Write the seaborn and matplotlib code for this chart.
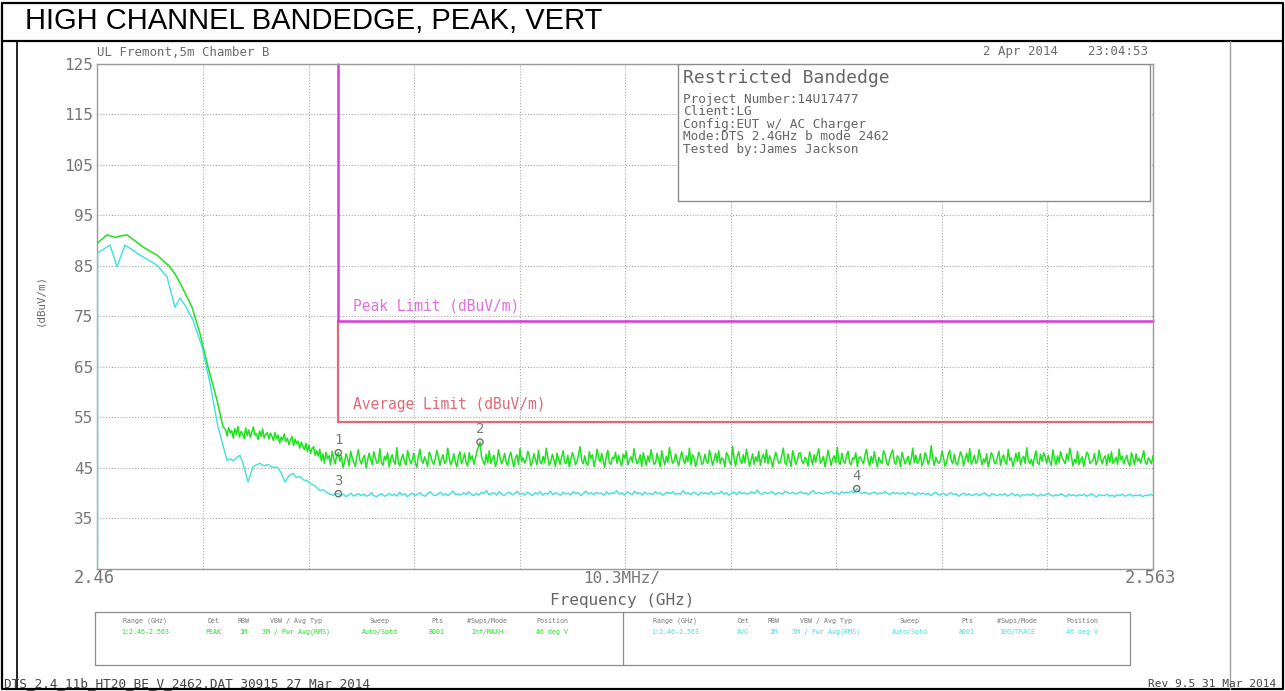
import numpy as np
import pandas as pd
import matplotlib
matplotlib.use("Agg")
import matplotlib.pyplot as plt
import seaborn as sns
from matplotlib.patches import Rectangle
from matplotlib.lines import Line2D

# ---------------- sweep data ----------------
F_START, F_STOP = 2.46, 2.563          # GHz
Y_MIN, Y_MAX = 25, 125                 # dBuV/m
y_ticks = [25, 35, 45, 55, 65, 75, 85, 95, 105, 115, 125]
y_tick_labels = ["", "35", "45", "55", "65", "75", "85", "95", "105", "115", "125"]

BAND_EDGE = 2.4835     # GHz, start of restricted band
PEAK_LIMIT = 74.0      # dBuV/m
AVG_LIMIT = 54.0       # dBuV/m
SKIRT_END = 2.4725     # GHz, where the carrier skirt reaches the noise floor

# peak detector trace: roll-off of the carrier skirt
peak_rolloff_freq = [2.46000, 2.46093, 2.46171, 2.46230, 2.46288, 2.46366, 2.46444,
                     2.46510, 2.46581, 2.46640, 2.46707, 2.46770, 2.46825, 2.46922,
                     2.47000, 2.47078, 2.47166, 2.47225]
peak_rolloff_level = [89.5, 91.1, 90.6, 90.9, 91.1, 89.9, 88.7,
                      87.9, 87.1, 86.0, 84.8, 82.9, 80.8, 76.8,
                      71.6, 65.0, 58.4, 53.1]

# peak detector trace: evenly spaced points, skirt end -> band edge
peak_skirt_level = [
    52.6, 51.3, 53.0, 51.9, 52.4, 50.9, 52.8, 51.6, 53.2, 51.1,
    52.2, 51.7, 50.8, 52.9, 51.4, 52.5, 51.0, 52.1, 53.1, 51.5,
    51.8, 50.6, 52.3, 51.2, 52.7, 50.9, 51.6, 52.0, 50.7, 51.9,
    51.3, 50.4, 52.0, 50.8, 51.5, 49.9, 51.1, 50.5, 51.7, 50.2,
    50.9, 49.6, 50.5, 51.2, 49.4, 50.7, 49.8, 50.3, 48.9, 50.1,
    49.3, 48.6, 49.9, 48.2, 49.5, 47.9, 48.8, 49.2, 47.5, 48.4,
    47.3, 48.7, 46.4, 47.8, 45.9, 48.1, 46.8, 47.4, 45.6, 48.3,
    46.9, 45.8, 47.6,
]

# peak detector trace: evenly spaced points, band edge -> stop frequency
peak_band_level = [
    48.0, 46.3, 47.4, 45.1, 46.0, 47.8, 46.9, 45.4, 48.3, 47.0,
    46.1, 45.3, 47.2, 48.6, 46.5, 45.8, 46.9, 47.5, 45.0, 46.4,
    47.9, 46.7, 45.6, 48.2, 47.1, 45.9, 46.2, 48.8, 46.0, 45.5,
    47.3, 46.6, 48.0, 45.2, 46.8, 47.6, 46.3, 45.7, 49.0, 46.1,
    45.4, 46.9, 47.7, 46.2, 45.6, 48.4, 47.0, 45.8, 46.5, 47.9,
    46.0, 45.1, 47.4, 48.7, 46.6, 45.9, 47.2, 46.4, 45.3, 48.1,
    47.5, 46.2, 45.7, 46.9, 48.5, 47.1, 45.5, 46.8, 47.6, 45.9,
    46.3, 48.9, 47.0, 45.6, 46.4, 47.8, 46.1, 45.2, 47.3, 48.2,
    45.8, 46.7, 47.9, 46.0, 45.4, 48.0, 46.6, 47.4, 45.7, 46.9,
    48.3, 49.1, 50.1, 47.2, 46.3, 45.6, 47.7, 46.0, 48.4, 45.9,
    46.8, 47.5, 45.3, 46.2, 48.6, 47.0, 45.8, 46.5, 47.9, 46.1,
    45.5, 47.2, 48.1, 46.4, 45.2, 46.9, 47.6, 45.7, 48.8, 46.3,
    47.0, 45.9, 46.6, 48.3, 47.4, 45.4, 46.1, 47.8, 46.7, 45.6,
    48.5, 46.2, 45.8, 47.3, 46.0, 48.9, 47.1, 45.5, 46.4, 47.7,
    46.6, 45.3, 47.9, 46.8, 45.7, 47.2, 48.4, 46.1, 45.9, 47.5,
    45.2, 46.7, 48.0, 47.1, 45.6, 46.3, 47.8, 49.2, 46.5, 45.8,
    47.4, 46.0, 45.5, 48.2, 46.9, 47.6, 45.3, 46.6, 48.7, 47.0,
    46.2, 47.9, 46.4, 45.1, 47.3, 48.5, 46.0, 45.7, 47.1, 46.8,
    48.1, 45.9, 47.5, 46.3, 45.4, 47.7, 46.9, 48.3, 45.6, 46.5,
    47.2, 46.1, 48.8, 47.0, 45.8, 46.4, 47.6, 45.3, 48.0, 46.7,
    45.5, 47.4, 46.2, 48.6, 47.1, 45.7, 46.0, 47.9, 46.6, 45.2,
    48.4, 46.8, 45.6, 47.3, 46.1, 49.0, 47.5, 45.9, 46.3, 47.8,
    46.5, 45.4, 47.0, 48.2, 46.7, 45.8, 47.4, 46.2, 48.9, 45.6,
    47.6, 46.9, 45.3, 46.4, 48.1, 47.2, 45.7, 46.0, 47.7, 46.3,
    45.9, 48.5, 47.1, 45.5, 46.6, 47.9, 46.1, 48.4, 45.8, 47.0,
    46.7, 45.2, 48.0, 47.5, 46.2, 45.6, 49.3, 46.8, 45.4, 47.3,
    48.2, 46.4, 45.9, 47.6, 46.0, 48.7, 47.1, 45.3, 46.5, 47.8,
    45.7, 47.2, 46.3, 48.3, 45.5, 46.9, 47.7, 46.1, 48.6, 45.8,
    47.4, 46.6, 45.1, 46.8, 48.1, 47.0, 45.9, 46.2, 47.5, 48.9,
    46.0, 45.6, 47.8, 46.5, 45.3, 48.4, 47.2, 45.7, 46.4, 47.9,
    48.0, 46.3, 45.8, 47.1, 46.7, 45.4, 48.2, 46.9, 45.6, 47.6,
    46.1, 47.7, 48.8, 45.9, 46.4, 47.3, 45.2, 46.6, 48.5, 47.0,
    45.5, 46.8, 47.4, 46.0, 49.1, 46.2, 45.7, 47.9, 46.3, 45.9,
    47.5, 48.3, 46.1, 45.6, 47.0, 46.7, 48.0, 45.3, 46.9, 47.2,
    46.4, 45.8, 47.6, 48.7, 46.5, 45.4, 47.3, 46.0, 48.2, 46.6,
    45.2, 47.1, 46.3, 45.9, 48.4, 47.7, 46.1, 45.5, 46.8, 47.9,
    48.6, 46.2, 45.7, 47.4, 46.9, 45.3, 48.1, 47.0, 45.8, 46.5,
    47.3, 45.6, 46.7, 48.9, 46.0, 47.5, 45.9, 46.4, 47.8, 45.4,
    46.2, 48.0, 47.2, 45.7, 46.6, 49.4, 46.8, 45.5, 47.1, 46.3,
    45.9, 46.5, 48.3, 47.0, 45.3, 46.1, 47.6, 48.5, 46.4, 45.8,
    47.7, 46.0, 45.6, 46.9, 48.2, 47.3, 45.4, 46.7, 47.9, 46.2,
    48.8, 45.7, 46.4, 47.5, 45.9, 46.3, 48.6, 47.1, 45.6, 46.8,
    46.1, 47.8, 45.2, 46.6, 48.0, 47.4, 46.0, 45.8, 47.2, 48.3,
    45.5, 46.9, 47.6, 46.2, 45.7, 48.7, 46.5, 47.0, 45.3, 46.4,
    47.9, 46.3, 48.1, 45.6, 46.8, 47.3, 45.9, 49.0, 46.6, 45.8,
    46.7, 45.4, 47.1, 48.4, 46.0, 45.7, 47.7, 46.3, 48.0, 47.2,
    45.9, 47.5, 46.2, 45.5, 48.6, 46.9, 45.6, 47.4, 46.1, 48.2,
    47.0, 46.4, 45.8, 47.8, 46.5, 48.9, 47.3, 45.4, 46.7, 46.0,
    48.3, 45.7, 46.6, 47.2, 45.3, 46.8, 48.1, 47.6, 45.9, 46.2,
    46.5, 47.9, 45.6, 46.3, 48.5, 47.0, 45.8, 46.9, 47.4, 45.5,
    47.7, 46.1, 48.2, 45.9, 46.4, 47.1, 45.7, 48.7, 46.6, 47.3,
    45.8, 46.7, 47.5, 46.0, 45.4, 48.0, 46.9, 45.6, 47.8, 46.3,
    46.9, 45.9, 47.2, 48.4, 46.1, 45.7, 47.0, 46.5, 45.8, 47.4,
]

# average detector trace: roll-off of the carrier skirt down to the band edge
avg_rolloff_freq = [2.46000, 2.46000, 2.46122, 2.46190, 2.46268, 2.46415, 2.46581,
                    2.46678, 2.46756, 2.46805, 2.46854, 2.46932, 2.47020, 2.47098,
                    2.47176, 2.47264, 2.47300, 2.47322, 2.47360, 2.47390, 2.47420,
                    2.47469, 2.47517, 2.47550, 2.47585, 2.47625, 2.47664, 2.47710,
                    2.47752, 2.47790, 2.47830, 2.47870, 2.47908, 2.47940, 2.47976,
                    2.48010, 2.48044, 2.48080, 2.48110, 2.48140, 2.48171, 2.48200,
                    2.48240, 2.48270, 2.48298, 2.48325]
avg_rolloff_level = [24.0, 87.5, 89.1, 84.8, 89.1, 87.1, 85.1,
                     82.8, 76.8, 78.6, 77.2, 74.2, 69.0, 61.7,
                     53.1, 46.5, 46.8, 46.4, 47.1, 47.5, 45.9,
                     42.2, 45.2, 45.6, 45.9, 45.4, 45.7, 45.1,
                     45.2, 44.1, 42.2, 43.5, 43.9, 43.1, 43.3,
                     42.6, 42.5, 41.9, 41.6, 41.1, 40.5, 40.7,
                     40.1, 39.8, 39.6, 39.9]

# average detector trace: evenly spaced points, band edge -> stop frequency
avg_band_level = [
    39.9, 39.5, 39.8, 39.3, 39.6, 40.0, 39.4, 39.7, 39.9, 39.5,
    39.8, 39.4, 39.6, 40.1, 39.5, 39.3, 39.7, 39.9, 39.4, 39.6,
    40.0, 39.5, 39.8, 39.4, 40.2, 39.6, 39.9, 39.3, 39.7, 40.0,
    39.5, 39.8, 40.1, 39.6, 39.4, 39.9, 40.3, 39.7, 39.5, 39.8,
    40.2, 39.6, 39.9, 39.5, 40.0, 40.4, 39.7, 39.9, 39.6, 40.1,
    39.7, 40.3, 39.8, 39.5, 40.0, 39.6, 40.2, 39.9, 40.5, 39.7,
    39.9, 40.1, 39.6, 40.3, 39.8, 39.5, 40.0, 40.2, 39.7, 39.9,
    40.4, 39.8, 40.0, 39.6, 40.2, 39.9, 39.5, 40.1, 39.8, 40.3,
    39.6, 40.0, 39.8, 40.4, 39.7, 40.1, 39.9, 39.6, 40.2, 39.8,
    40.0, 39.7, 40.3, 39.9, 40.1, 39.5, 40.0, 40.4, 39.8, 40.1,
    39.7, 40.2, 39.9, 40.0, 39.6, 40.3, 39.8, 40.1, 39.9, 40.5,
    39.8, 40.1, 39.6, 40.2, 40.0, 39.7, 40.4, 39.9, 40.1, 39.6,
    40.2, 39.8, 40.0, 39.7, 40.3, 39.9, 40.1, 39.6, 40.0, 40.2,
    39.9, 40.3, 39.7, 40.0, 39.8, 40.5, 39.9, 40.1, 39.7, 40.2,
    40.0, 39.6, 40.2, 39.9, 40.1, 39.8, 40.3, 39.7, 40.0, 39.9,
    40.4, 39.8, 40.1, 39.6, 40.0, 40.2, 39.7, 40.3, 39.9, 40.1,
    39.8, 40.0, 40.3, 39.9, 40.6, 40.0, 39.8, 40.2, 39.9, 40.1,
    40.3, 39.7, 40.1, 40.0, 39.8, 40.4, 40.1, 39.9, 40.2, 39.8,
    40.0, 40.3, 39.9, 40.1, 39.7, 40.2, 40.5, 39.9, 40.1, 40.0,
    39.8, 40.2, 40.0, 40.4, 39.9, 40.1, 39.7, 40.3, 40.0, 40.2,
    40.1, 40.4, 40.0, 40.9, 40.3, 39.9, 40.2, 40.0, 39.8, 40.1,
    40.2, 39.8, 40.1, 39.9, 40.3, 40.0, 39.7, 40.2, 39.9, 40.1,
    39.8, 40.1, 39.7, 40.2, 39.9, 40.0, 39.6, 40.1, 39.8, 40.0,
    39.7, 40.0, 39.5, 39.9, 40.2, 39.6, 39.8, 40.0, 39.5, 39.9,
    40.1, 39.7, 39.9, 39.4, 39.8, 40.0, 39.6, 39.9, 39.5, 39.7,
    39.9, 39.5, 39.8, 40.1, 39.6, 39.4, 39.9, 39.7, 39.5, 39.8,
    39.6, 39.9, 39.4, 39.7, 40.0, 39.5, 39.8, 39.3, 39.7, 39.6,
    39.8, 39.5, 39.9, 39.6, 39.4, 39.8, 39.5, 39.7, 40.0, 39.6,
    39.4, 39.7, 39.5, 39.9, 39.6, 39.3, 39.8, 39.5, 39.7, 39.4,
    39.7, 39.5, 39.8, 39.4, 39.6, 39.9, 39.5, 39.3, 39.7, 39.6,
    39.5, 39.8, 39.4, 39.6, 39.3, 39.7, 39.5, 39.8, 39.4, 39.6,
    39.8, 39.4, 39.6, 39.5, 39.7, 39.3, 39.6, 39.5, 39.8, 39.5,
]

marker_ids = ["1", "2", "3", "4"]

# ---------------- build traces ----------------
peak_band_freq = np.linspace(BAND_EDGE, F_STOP, len(peak_band_level))
avg_band_freq = np.linspace(BAND_EDGE, F_STOP, len(avg_band_level))

peak_df = pd.DataFrame({
    "freq": np.concatenate([peak_rolloff_freq,
                            np.linspace(SKIRT_END, BAND_EDGE, len(peak_skirt_level) + 1)[:-1],
                            peak_band_freq]),
    "level": peak_rolloff_level + peak_skirt_level + peak_band_level,
})
avg_df = pd.DataFrame({
    "freq": np.concatenate([avg_rolloff_freq, avg_band_freq]),
    "level": avg_rolloff_level + avg_band_level,
})

# markers: level at the band edge and the highest point inside the restricted band
i_pk = int(np.argmax(peak_band_level))
i_av = int(np.argmax(avg_band_level))
marker_freq = [BAND_EDGE, peak_band_freq[i_pk], BAND_EDGE, avg_band_freq[i_av]]
marker_level = [peak_band_level[0], peak_band_level[i_pk], avg_band_level[0], avg_band_level[i_av]]

# ---------------- styling ----------------
GREEN = "#1fe21f"
CYAN = "#3fe0e0"
MAGENTA = "#d93ad9"
MAGENTA_TXT = "#e070e0"
RED = "#e06a78"
INK = "#6a6a6a"
FRAME = "#9a9a9a"

sns.set_style("white")
plt.rcParams["font.family"] = ["DejaVu Sans Mono", "DejaVu Sans"]

W, H = 1285, 691
fig = plt.figure(figsize=(W / 100, H / 100), dpi=100)
fig.patch.set_facecolor("white")


def ftext(x, y, s, **kw):
    fig.text(x / W, 1 - y / H, s, **kw)


def fline(xs, ys, **kw):
    fig.add_artist(Line2D([x / W for x in xs], [1 - y / H for y in ys],
                          transform=fig.transFigure, **kw))


# plot area
ax_l, ax_r, ax_t, ax_b = 97.5, 1153, 63.5, 569
ax = fig.add_axes([ax_l / W, 1 - ax_b / H, (ax_r - ax_l) / W, (ax_b - ax_t) / H])

sns.lineplot(data=peak_df, x="freq", y="level", ax=ax, color=GREEN, lw=1.1,
             sort=False, estimator=None, zorder=3)
sns.lineplot(data=avg_df, x="freq", y="level", ax=ax, color=CYAN, lw=1.0,
             sort=False, estimator=None, zorder=3)

# limit lines
ax.plot([BAND_EDGE, BAND_EDGE, F_STOP], [PEAK_LIMIT, AVG_LIMIT, AVG_LIMIT],
        color=RED, lw=1.6, zorder=2)
ax.plot([BAND_EDGE, BAND_EDGE, F_STOP], [Y_MAX, PEAK_LIMIT, PEAK_LIMIT],
        color=MAGENTA, lw=1.8, zorder=2, clip_on=False)
ax.text(BAND_EDGE + 0.0014, PEAK_LIMIT + 3.0, "Peak Limit (dBuV/m)",
        color=MAGENTA_TXT, fontsize=10.5, va="center", ha="left", zorder=4)
ax.text(BAND_EDGE + 0.0014, AVG_LIMIT + 3.6, "Average Limit (dBuV/m)",
        color=RED, fontsize=10.5, va="center", ha="left", zorder=4)

# markers
ax.scatter(marker_freq, marker_level, s=20, facecolors="none",
           edgecolors="#707070", linewidths=1.0, zorder=5)
for mid, mf, ml in zip(marker_ids, marker_freq, marker_level):
    ax.text(mf, ml + 2.5, mid, ha="center", va="center", color="#7a7a7a",
            fontsize=10, zorder=5)

ax.set_xlim(F_START, F_STOP)
ax.set_ylim(Y_MIN, Y_MAX)
ax.set_xticks(np.linspace(F_START, F_STOP, 11))
ax.set_xticklabels([])
ax.set_yticks(y_ticks)
ax.set_yticklabels(y_tick_labels, color="#777777", fontsize=11.5)
ax.tick_params(axis="y", length=0, pad=3)
ax.tick_params(axis="x", length=0)
ax.set_xlabel("")
ax.set_ylabel("")
ax.grid(True, linestyle=(0, (1, 1.6)), color="#a8a8a8", lw=0.8, zorder=0)
for side in ["left", "bottom", "top", "right"]:
    ax.spines[side].set_color(FRAME)
    ax.spines[side].set_linewidth(1.0)

# annotation box with test details
ax.add_patch(Rectangle((0.550, 0.728), 0.447, 0.272, transform=ax.transAxes,
                       facecolor="white", edgecolor="#8c8c8c", lw=1.0, zorder=6))
ftext(683, 78, "Restricted Bandedge", fontsize=13, color="#666666", va="center", zorder=7)
details = ["Project Number:14U17477", "Client:LG", "Config:EUT w/ AC Charger",
           "Mode:DTS 2.4GHz b mode 2462", "Tested by:James Jackson"]
for i, line in enumerate(details):
    ftext(683, 99 + i * 12.6, line, fontsize=9.2, color="#666666", va="center", zorder=7)

# analyzer screen texts
ftext(97, 52, "UL Fremont,5m Chamber B", fontsize=8.9, color=INK, va="center")
ftext(1148, 52, "2 Apr 2014    23:04:53", fontsize=8.9, color=INK, va="center", ha="right")
ftext(40, 300, "(dBuV/m)", fontsize=7.8, color=INK, va="center", ha="center", rotation=90)
ftext(94, 578, "2.46", fontsize=12.3, color="#777777", va="center", ha="center")
ftext(622, 578, "10.3MHz/", fontsize=11.5, color="#777777", va="center", ha="center")
ftext(1150, 578, "2.563", fontsize=12.3, color="#777777", va="center", ha="center")
ftext(622, 600, "Frequency (GHz)", fontsize=11.5, color="#666666", va="center", ha="center")

# sweep settings table
fline([95, 1130, 1130, 95, 95], [612, 612, 665, 665, 612], color="#8c8c8c", lw=0.9)
fline([623, 623], [612, 665], color="#8c8c8c", lw=0.9)
headers = ["Range (GHz)", "Det", "RBW", "VBW / Avg Typ", "Sweep", "Pts", "#Swps/Mode", "Position"]
header_x = [145, 213, 243, 296, 380, 437, 487, 552]
left_vals = ["1:2.46-2.563", "PEAK", "1M", "3M / Pwr Avg(RMS)", "Auto/Sptd", "8001", "Inf/MAXH", "46 deg V"]
right_vals = ["1:2.46-2.563", "AVG", "1M", "3M / Pwr Avg(RMS)", "Auto/Sptd", "8001", "100/TRACE", "46 deg V"]
for hx, h, lv, rv in zip(header_x, headers, left_vals, right_vals):
    ftext(hx, 621, h, fontsize=4.8, color="#777777", ha="center", va="center")
    ftext(hx, 632, lv, fontsize=4.8, color=GREEN, ha="center", va="center")
    ftext(hx + 530, 621, h, fontsize=4.8, color="#777777", ha="center", va="center")
    ftext(hx + 530, 632, rv, fontsize=4.8, color=CYAN, ha="center", va="center")

ftext(4, 684, "DTS_2.4_11b_HT20_BE_V_2462.DAT 30915 27 Mar 2014", fontsize=9.2,
      color="#444444", va="center", ha="left")
ftext(1276, 684, "Rev 9.5 31 Mar 2014", fontsize=8.0, color="#444444", va="center", ha="right")

# report page frame and heading
fline([2, 1283, 1283, 2, 2], [3, 3, 689, 689, 3], color="black", lw=1.6)
fline([2, 1283], [41, 41], color="black", lw=1.6)
fline([17, 17], [41, 689], color="black", lw=1.2)
fline([1230, 1230], [41, 689], color="#a0a0a0", lw=1.0)
ftext(25, 21, "HIGH CHANNEL BANDEDGE, PEAK, VERT", fontsize=21, color="black",
      va="center", ha="left", family=["Liberation Sans", "DejaVu Sans"])

fig.savefig("out.png", dpi=100, facecolor="white")
